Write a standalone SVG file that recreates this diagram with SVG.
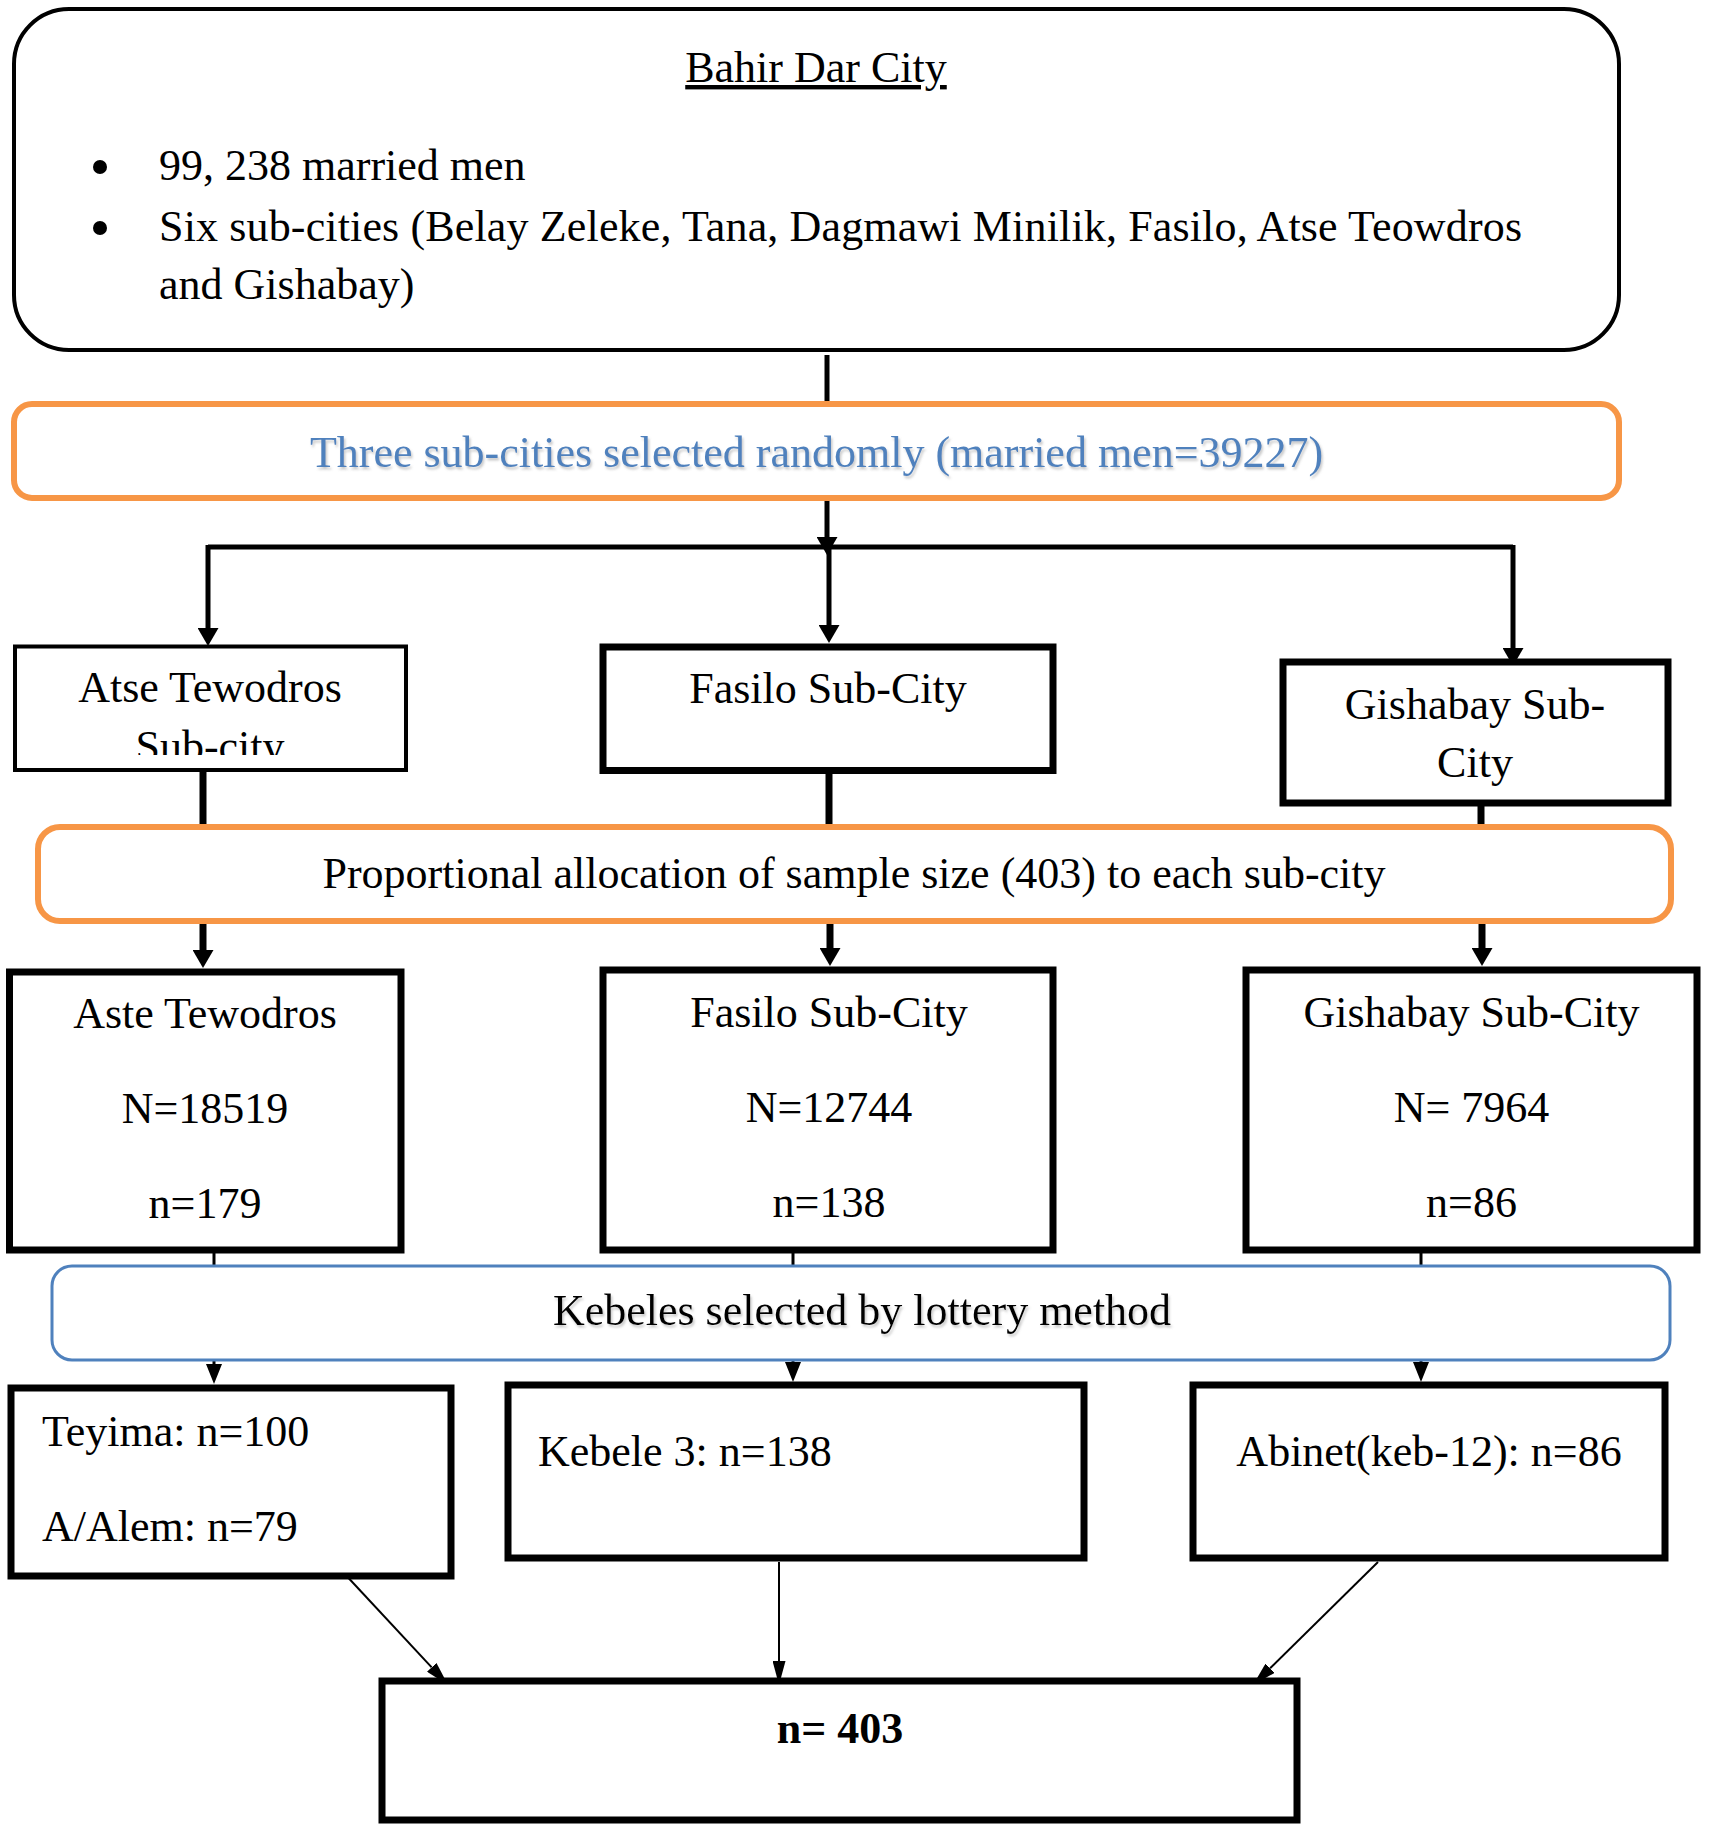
<svg xmlns="http://www.w3.org/2000/svg" width="1710" height="1830" viewBox="0 0 1710 1830">
<style>
text{font-family:"Liberation Serif","Times New Roman",serif;font-size:44px;fill:#000}
.m{text-anchor:middle}
.box{fill:#fff;stroke:#000;stroke-width:7}
.box4{fill:#fff;stroke:#000;stroke-width:4}
.org{fill:#fff;stroke:#F79646;stroke-width:6}
.blu{fill:#fff;stroke:#4F81BD;stroke-width:3}
.bt{fill:#4F81BD}
.c5{stroke:#000;stroke-width:5;fill:none}
.c7{stroke:#000;stroke-width:7;fill:none}
.c3{stroke:#000;stroke-width:3;fill:none}
.c2{stroke:#000;stroke-width:2;fill:none}
</style>
<defs>
<marker id="ahT" markerUnits="userSpaceOnUse" markerWidth="18" markerHeight="21" viewBox="0 0 18 21" refX="0" refY="10.5" orient="auto"><path d="M0,0 L18,10.5 L0,21 z" fill="#000"/></marker>
<marker id="ahM" markerUnits="userSpaceOnUse" markerWidth="20" markerHeight="16" viewBox="0 0 20 16" refX="0" refY="8" orient="auto"><path d="M0,0 L20,8 L0,16 z" fill="#000"/></marker>
<marker id="ahL" markerUnits="userSpaceOnUse" markerWidth="24" markerHeight="13" viewBox="0 0 24 13" refX="0" refY="6.5" orient="auto"><path d="M0,0 L24,6.5 L0,13 z" fill="#000"/></marker>
<filter id="sh" x="-5%" y="-30%" width="110%" height="160%"><feDropShadow dx="1.5" dy="2.5" stdDeviation="1.2" flood-color="#888" flood-opacity="0.45"/></filter>
<clipPath id="clipAtse"><rect x="17" y="648" width="387" height="107"/></clipPath>
</defs>

<g id="connectors">
<path class="c5" d="M827,355 V401"/>
<path class="c5" d="M827,501 V537" marker-end="url(#ahT)"/>
<path class="c5" d="M208,547 H1513"/>
<path class="c5" d="M208,545 V628" marker-end="url(#ahT)"/>
<path class="c5" d="M829,547 V625" marker-end="url(#ahT)"/>
<path class="c5" d="M1513,545 V648" marker-end="url(#ahT)"/>
<path class="c7" d="M203,772 V824"/>
<path class="c7" d="M829,774 V824"/>
<path class="c7" d="M1481,806 V824"/>
<path class="c7" d="M203,924 V950" marker-end="url(#ahT)"/>
<path class="c7" d="M830,924 V948" marker-end="url(#ahT)"/>
<path class="c7" d="M1482,924 V948" marker-end="url(#ahT)"/>
<path class="c3" d="M214,1253 V1266"/>
<path class="c3" d="M793,1253 V1266"/>
<path class="c3" d="M1421,1253 V1266"/>
<path class="c3" d="M214,1360 V1364" marker-end="url(#ahM)"/>
<path class="c3" d="M793,1360 V1362" marker-end="url(#ahM)"/>
<path class="c3" d="M1421,1360 V1362" marker-end="url(#ahM)"/>
<path class="c2" d="M342,1571 L431.7,1667.4" marker-end="url(#ahL)"/>
<path class="c2" d="M779,1562 V1661" marker-end="url(#ahL)"/>
<path class="c2" d="M1378,1562 L1270.1,1668.2" marker-end="url(#ahL)"/>
</g>

<g id="bahir-dar-city">
<rect x="14" y="9" width="1605" height="341" rx="55" ry="55" fill="#fff" stroke="#000" stroke-width="4"/>
<text class="m" x="816" y="82" text-decoration="underline">Bahir Dar City</text>
<circle cx="100" cy="167" r="7" fill="#000"/>
<circle cx="100" cy="228" r="7" fill="#000"/>
<text x="159" y="180">99, 238 married men</text>
<text x="159" y="241" textLength="1363" lengthAdjust="spacing">Six sub-cities (Belay Zeleke, Tana, Dagmawi Minilik, Fasilo, Atse Teowdros</text>
<text x="159" y="299">and Gishabay)</text>
</g>

<g id="three-subcities">
<rect class="org" x="14" y="404" width="1605" height="94" rx="18" ry="18"/>
<text class="m bt" x="816.5" y="467" filter="url(#sh)">Three sub-cities selected randomly (married men=39227)</text>
</g>

<g id="atse-tewodros-1">
<rect class="box4" x="15" y="646.5" width="391" height="123.5"/>
<g clip-path="url(#clipAtse)">
<text class="m" x="210" y="702">Atse Tewodros</text>
<text class="m" x="210" y="761">Sub-city</text>
</g>
</g>

<g id="fasilo-1">
<rect class="box" x="603" y="647" width="450" height="123.5"/>
<text class="m" x="828" y="703">Fasilo Sub-City</text>
</g>

<g id="gishabay-1">
<rect class="box" x="1283" y="662" width="385" height="141"/>
<text class="m" x="1475" y="719">Gishabay Sub-</text>
<text class="m" x="1475" y="777">City</text>
</g>

<g id="proportional-allocation">
<rect class="org" x="38" y="827" width="1633" height="94" rx="22" ry="22"/>
<text class="m" x="854" y="888">Proportional allocation of sample size (403) to each sub-city</text>
</g>

<g id="aste-tewodros-2">
<rect class="box" x="9.5" y="972" width="391.5" height="278"/>
<text class="m" x="205" y="1028">Aste Tewodros</text>
<text class="m" x="205" y="1123">N=18519</text>
<text class="m" x="205" y="1218">n=179</text>
</g>

<g id="fasilo-2">
<rect class="box" x="603" y="970" width="450" height="280"/>
<text class="m" x="829" y="1027">Fasilo Sub-City</text>
<text class="m" x="829" y="1122">N=12744</text>
<text class="m" x="829" y="1217">n=138</text>
</g>

<g id="gishabay-2">
<rect class="box" x="1246" y="970" width="451" height="280"/>
<text class="m" x="1471.5" y="1027">Gishabay Sub-City</text>
<text class="m" x="1471.5" y="1122">N= 7964</text>
<text class="m" x="1471.5" y="1217">n=86</text>
</g>

<g id="kebeles-lottery">
<rect class="blu" x="52" y="1266" width="1618" height="94" rx="20" ry="20"/>
<text class="m" x="862" y="1325" filter="url(#sh)">Kebeles selected by lottery method</text>
</g>

<g id="teyima-alem">
<rect class="box" x="11" y="1388" width="440" height="188"/>
<text x="42" y="1446">Teyima: n=100</text>
<text x="42" y="1541">A/Alem: n=79</text>
</g>

<g id="kebele-3">
<rect class="box" x="508" y="1385" width="576" height="173"/>
<text x="538" y="1466">Kebele 3: n=138</text>
</g>

<g id="abinet">
<rect class="box" x="1193" y="1385" width="472" height="173"/>
<text class="m" x="1429" y="1466">Abinet(keb-12): n=86</text>
</g>

<g id="total">
<rect class="box" x="382" y="1681" width="915" height="139"/>
<text class="m" x="840" y="1743" font-weight="bold">n= 403</text>
</g>
</svg>
